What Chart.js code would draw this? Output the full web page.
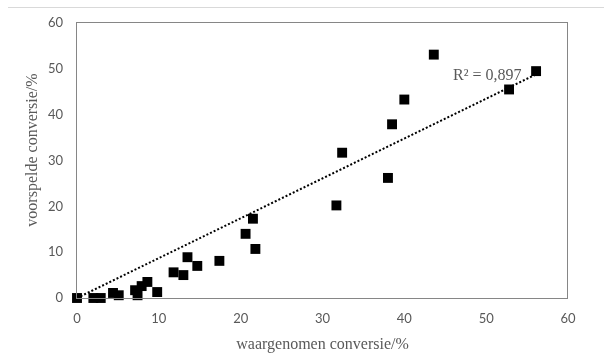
<!DOCTYPE html>
<html>
<head>
<meta charset="utf-8">
<script src="https://cdn.jsdelivr.net/npm/chart.js@4.4.1/dist/chart.umd.min.js"></script>
<style>
  html, body { margin: 0; padding: 0; background: #fff; }
  #wrap { width: 604px; height: 363px; }
</style>
</head>
<body>
<div id="wrap"><canvas id="chart" width="604" height="363"></canvas></div>
<script>
// waargenomen vs voorspelde conversie (%)
const observed = [0, 2.0, 2.9, 4.4, 5.1, 7.1, 7.4, 7.9, 8.6, 9.8, 11.8, 13.0, 13.5, 14.7, 17.4, 20.6, 21.5, 21.8, 31.7, 32.4, 38.0, 38.5, 40.0, 43.6, 52.8, 56.1];
const predicted = [0, 0, 0, 1.1, 0.6, 1.7, 0.6, 2.6, 3.5, 1.3, 5.6, 5.0, 8.9, 7.0, 8.1, 14.0, 17.3, 10.7, 20.2, 31.7, 26.2, 37.9, 43.3, 53.1, 45.5, 49.5];

// linear trendline end points
const trendX = [0, 56.1];
const trendY = [0, 48.8];

const axisTicks = [0, 10, 20, 30, 40, 50, 60];
const xTitle = "waargenomen conversie/%";
const yTitle = "voorspelde conversie/%";
const r2Label = "R\u00b2 = 0,897";

const grey = "#595959";
const serif = "'Liberation Serif', 'DejaVu Serif', serif";

function toPoints(xs, ys) {
  return xs.map((x, i) => ({ x, y: ys[i] }));
}

const decorPlugin = {
  id: "decor",
  beforeDraw(chart) {
    const ctx = chart.ctx;
    ctx.save();
    ctx.strokeStyle = "#d9d9d9";
    ctx.lineWidth = 1;
    ctx.beginPath();
    ctx.moveTo(8, 7.5);
    ctx.lineTo(chart.width, 7.5);
    ctx.stroke();
    ctx.restore();
  },
  afterDatasetsDraw(chart) {
    const { ctx, chartArea, scales } = chart;
    ctx.save();
    ctx.strokeStyle = "#868686";
    ctx.lineWidth = 1;
    ctx.strokeRect(Math.round(chartArea.left) - 0.5, Math.round(chartArea.top) - 0.5,
      Math.round(chartArea.right - chartArea.left), Math.round(chartArea.bottom - chartArea.top) + 1);

    // y title, a bit above the plot centre as in the original
    ctx.fillStyle = grey;
    ctx.font = "16px " + serif;
    ctx.textAlign = "center";
    ctx.textBaseline = "middle";
    ctx.translate(33, 150);
    ctx.rotate(-Math.PI / 2);
    ctx.fillText(yTitle, 0, 0);
    ctx.restore();

    // R² label sits left of the trendline end
    ctx.save();
    ctx.fillStyle = grey;
    ctx.font = "16px " + serif;
    ctx.textAlign = "left";
    ctx.textBaseline = "alphabetic";
    const lx = scales.x.getPixelForValue(trendX[1]) - 83;
    const ly = scales.y.getPixelForValue(trendY[1]) + 6;
    ctx.fillText(r2Label, lx, ly);
    ctx.restore();
  },
};

new Chart(document.getElementById("chart"), {
  type: "scatter",
  data: {
    datasets: [
      {
        label: "trend",
        data: toPoints(trendX, trendY),
        showLine: true,
        borderColor: "#000",
        borderWidth: 2,
        borderDash: [2, 2],
        pointRadius: 0,
        fill: false,
        order: 0,
      },
      {
        label: "conversie",
        data: toPoints(observed, predicted),
        pointStyle: "rect",
        pointRadius: 7,
        pointHoverRadius: 7,
        backgroundColor: "#000",
        borderColor: "#000",
        borderWidth: 0,
        clip: false,
        order: 1,
      },
    ],
  },
  options: {
    responsive: false,
    animation: false,
    layout: { padding: { top: 23, right: 36, left: 0, bottom: 0 } },
    plugins: {
      legend: { display: false },
      tooltip: { enabled: false },
    },
    scales: {
      x: {
        type: "linear",
        min: 0,
        max: 60,
        afterBuildTicks: (scale) => { scale.ticks = axisTicks.map((v) => ({ value: v })); },
        afterFit: (scale) => { scale.height = 65; },
        grid: { display: false, drawTicks: false },
        border: { display: false },
        ticks: { color: grey, padding: 13, font: { family: "Lato", size: 13 } },
        title: {
          display: true,
          text: xTitle,
          color: grey,
          font: { family: serif, size: 16 },
          padding: { top: 0, bottom: 9 },
        },
      },
      y: {
        type: "linear",
        min: 0,
        max: 60,
        afterBuildTicks: (scale) => { scale.ticks = axisTicks.map((v) => ({ value: v })); },
        afterFit: (scale) => { scale.width = 77; },
        grid: { display: false, drawTicks: false },
        border: { display: false },
        ticks: { color: grey, padding: 14, font: { family: "Lato", size: 13 } },
      },
    },
  },
  plugins: [decorPlugin],
});
</script>
</body>
</html>
